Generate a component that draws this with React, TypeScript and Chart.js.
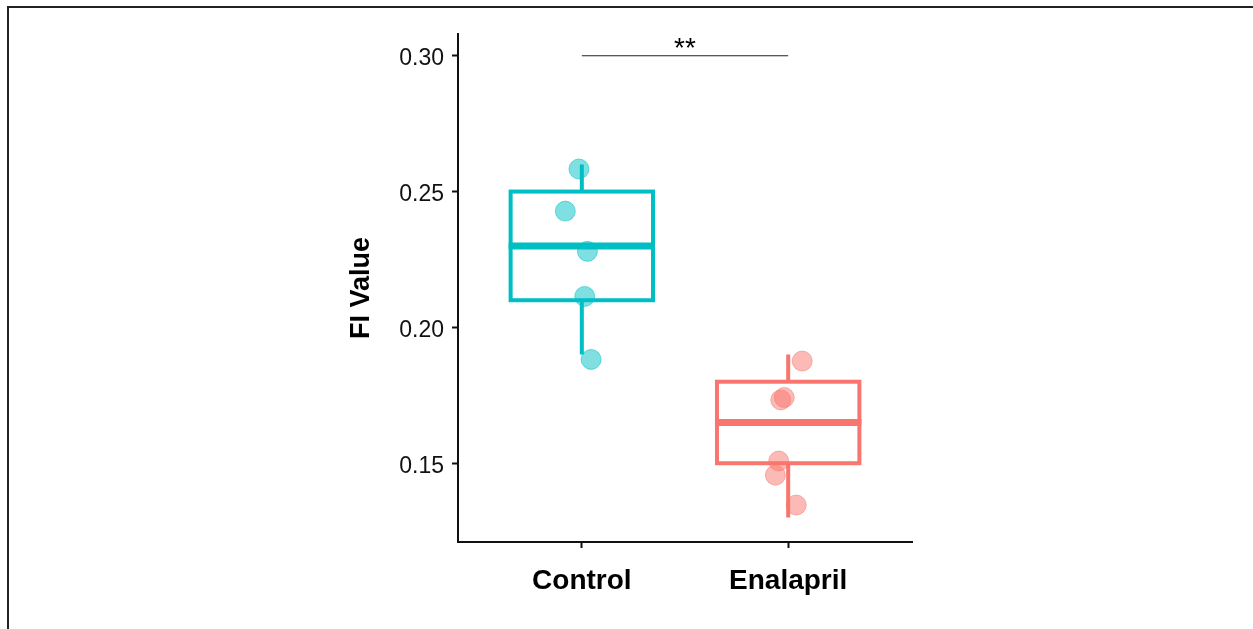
import React, { useEffect, useRef } from "react";
import { Chart, registerables } from "chart.js";

Chart.register(...registerables);

// Groups and summary statistics for each box
const groups = ["Control", "Enalapril"];
const boxMin = [0.19, 0.13];
const boxQ1 = [0.21, 0.15];
const boxMedian = [0.23, 0.165];
const boxQ3 = [0.25, 0.18];
const boxMax = [0.26, 0.19];

// Individual (jittered) observations
const controlX = [0.986, 0.92, 1.027, 1.014, 1.045];
const controlY = [0.2583, 0.2428, 0.228, 0.2114, 0.1882];
const enalaprilX = [2.068, 1.981, 1.964, 1.954, 1.938, 2.039];
const enalaprilY = [0.1876, 0.1742, 0.1733, 0.1508, 0.1456, 0.1346];

// Axis ticks and significance annotation
const yTicks = [0.15, 0.2, 0.25, 0.3];
const sigLevel = 0.3;
const sigLabel = "**";

const lineColors = ["#00BFC4", "#F8766D"];
const pointColors = ["rgba(0,191,196,0.5)", "rgba(248,118,109,0.5)"];
const boxWidth = 0.69;

const FONT = "'Liberation Sans', Arial, Helvetica, sans-serif";

const boxPlugin = {
  id: "boxes",
  beforeDatasetsDraw(chart: any) {
    const { ctx, scales } = chart;
    const xs = scales.x;
    const ys = scales.y;
    ctx.save();
    groups.forEach((_, i) => {
      const cx = xs.getPixelForValue(i + 1);
      const left = xs.getPixelForValue(i + 1 - boxWidth / 2);
      const right = xs.getPixelForValue(i + 1 + boxWidth / 2);
      const yQ1 = ys.getPixelForValue(boxQ1[i]);
      const yQ3 = ys.getPixelForValue(boxQ3[i]);
      const yMed = ys.getPixelForValue(boxMedian[i]);
      const yMin = ys.getPixelForValue(boxMin[i]);
      const yMax = ys.getPixelForValue(boxMax[i]);
      ctx.strokeStyle = lineColors[i];
      ctx.lineCap = "butt";
      ctx.lineJoin = "miter";
      // whiskers
      ctx.lineWidth = 4;
      ctx.beginPath();
      ctx.moveTo(cx, yQ3);
      ctx.lineTo(cx, yMax);
      ctx.moveTo(cx, yQ1);
      ctx.lineTo(cx, yMin);
      ctx.stroke();
      // box
      ctx.fillStyle = "#ffffff";
      ctx.fillRect(left, yQ3, right - left, yQ1 - yQ3);
      ctx.strokeRect(left, yQ3, right - left, yQ1 - yQ3);
      // median
      ctx.lineWidth = 7;
      ctx.beginPath();
      ctx.moveTo(left - 2, yMed);
      ctx.lineTo(right + 2, yMed);
      ctx.stroke();
    });
    ctx.restore();
  },
  afterDatasetsDraw(chart: any) {
    const { ctx, scales } = chart;
    const xs = scales.x;
    const ys = scales.y;
    const x1 = xs.getPixelForValue(1);
    const x2 = xs.getPixelForValue(2);
    const y = ys.getPixelForValue(sigLevel);
    ctx.save();
    ctx.strokeStyle = "#222";
    ctx.lineWidth = 1.2;
    ctx.beginPath();
    ctx.moveTo(x1, y);
    ctx.lineTo(x2, y);
    ctx.stroke();
    ctx.fillStyle = "#000";
    ctx.font = `28px ${FONT}`;
    ctx.textAlign = "center";
    ctx.textBaseline = "alphabetic";
    ctx.fillText(sigLabel, (x1 + x2) / 2, y + 1);
    ctx.restore();
  },
};

export default function App() {
  const ref = useRef<HTMLCanvasElement>(null);

  useEffect(() => {
    if (!ref.current) return;
    const chart = new Chart(ref.current, {
      type: "scatter",
      data: {
        datasets: [
          {
            label: groups[0],
            data: controlX.map((x, k) => ({ x, y: controlY[k] })),
            backgroundColor: pointColors[0],
            borderColor: pointColors[0],
            borderWidth: 1,
            pointRadius: 10,
          },
          {
            label: groups[1],
            data: enalaprilX.map((x, k) => ({ x, y: enalaprilY[k] })),
            backgroundColor: pointColors[1],
            borderColor: pointColors[1],
            borderWidth: 1,
            pointRadius: 10,
          },
        ],
      },
      options: {
        animation: false,
        responsive: false,
        maintainAspectRatio: false,
        layout: { padding: { left: 0, top: 34, right: 341, bottom: 0 } },
        plugins: {
          legend: { display: false },
          tooltip: { enabled: false },
        },
        scales: {
          x: {
            type: "linear",
            min: 0.4,
            max: 2.6,
            afterBuildTicks: (scale: any) => {
              scale.ticks = groups.map((_, i) => ({ value: i + 1 }));
            },
            afterFit: (scale: any) => {
              scale.height = 87;
            },
            grid: {
              display: true,
              drawOnChartArea: false,
              drawTicks: true,
              tickLength: 6,
              tickWidth: 2,
              tickColor: "#111",
            },
            border: { display: true, width: 2, color: "#111" },
            ticks: {
              autoSkip: false,
              maxRotation: 0,
              padding: 16,
              color: "#000",
              font: { family: FONT, size: 28, weight: "bold" },
              callback: (value: any) => groups[Math.round(value) - 1] ?? "",
            },
          },
          y: {
            type: "linear",
            min: 0.121,
            max: 0.308,
            afterBuildTicks: (scale: any) => {
              scale.ticks = yTicks.map((v) => ({ value: v }));
            },
            afterFit: (scale: any) => {
              scale.width = 458;
            },
            grid: {
              display: true,
              drawOnChartArea: false,
              drawTicks: true,
              tickLength: 6,
              tickWidth: 2,
              tickColor: "#111",
            },
            border: { display: true, width: 2, color: "#111" },
            ticks: {
              padding: 8,
              labelOffset: 3,
              color: "#111",
              font: { family: FONT, size: 23 },
              callback: (value: any) => Number(value).toFixed(2),
            },
            title: {
              display: true,
              text: "FI Value",
              color: "#000",
              font: { family: FONT, size: 27, weight: "bold" },
              padding: { top: 345, bottom: 0 },
            },
          },
        },
      },
      plugins: [boxPlugin],
    });
    return () => chart.destroy();
  }, []);

  return (
    <div
      style={{
        position: "absolute",
        left: 0,
        top: 0,
        width: 1253,
        height: 629,
        background: "#fff",
        overflow: "hidden",
      }}
    >
      <div
        style={{
          position: "absolute",
          left: 7,
          top: 6,
          width: 1300,
          height: 700,
          borderTop: "2px solid #222",
          borderLeft: "2px solid #222",
          boxSizing: "border-box",
        }}
      />
      <canvas
        ref={ref}
        width={1253}
        height={629}
        style={{ position: "absolute", left: 0, top: 0, width: 1253, height: 629 }}
      />
    </div>
  );
}
